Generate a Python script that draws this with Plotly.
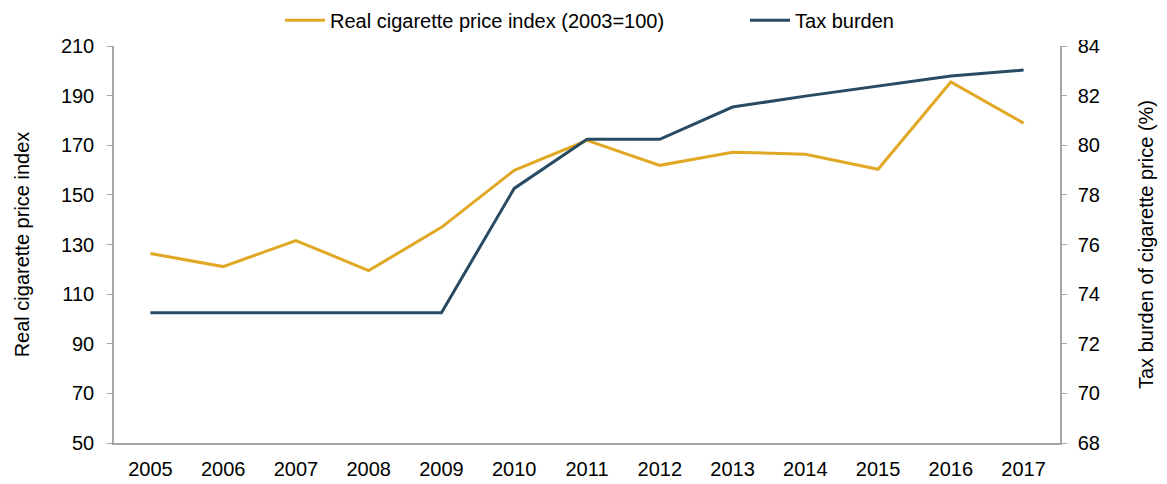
import plotly.graph_objects as go

years = ["2005", "2006", "2007", "2008", "2009", "2010", "2011",
         "2012", "2013", "2014", "2015", "2016", "2017"]
price_index = [126.4, 121.1, 131.6, 119.5, 136.9, 159.9, 172.0,
               161.9, 167.2, 166.4, 160.3, 195.5, 178.9]
tax_burden = [73.25, 73.25, 73.25, 73.25, 73.25, 78.26, 80.24,
              80.24, 81.54, 81.98, 82.38, 82.79, 83.03]

left_ticks = [50, 70, 90, 110, 130, 150, 170, 190, 210]
right_ticks = [68, 70, 72, 74, 76, 78, 80, 82, 84]

GOLD = "#E0A825"
NAVY = "#284B63"
AXIS = "#A6A6A6"
FONT = "Liberation Sans, Arial, sans-serif"
FS = 20

fig = go.Figure()
fig.add_trace(go.Scatter(
    x=years, y=price_index, mode="lines",
    name="Real cigarette price index (2003=100)",
    line=dict(color=GOLD, width=3),
))
fig.add_trace(go.Scatter(
    x=years, y=tax_burden, mode="lines", name="Tax burden",
    line=dict(color=NAVY, width=3), yaxis="y2",
))

fig.update_layout(
    width=1167, height=484,
    margin=dict(l=114, r=107, t=46, b=41, autoexpand=False),
    plot_bgcolor="white", paper_bgcolor="white",
    font=dict(family=FONT, size=FS, color="#000000"),
    showlegend=True,
    legend=dict(orientation="h", x=0.1755, xanchor="left",
                y=0.958, yanchor="middle", yref="container",
                font=dict(size=FS), itemwidth=40, tracegroupgap=0,
                entrywidth=410, entrywidthmode="pixels"),
    xaxis=dict(
        type="category", showgrid=False, showline=True, linecolor=AXIS,
        linewidth=1.5, ticks="", tickfont=dict(size=FS), ticklabelstandoff=7,
        range=[-0.5, 12.5],
    ),
    yaxis=dict(
        range=[50, 210], tickvals=left_ticks, showgrid=False, zeroline=False,
        showline=True, linecolor=AXIS, linewidth=1.5, ticks="outside",
        ticklen=5, tickcolor=AXIS, tickfont=dict(size=FS),
        ticklabelstandoff=9,
        title=dict(text="Real cigarette price index", font=dict(size=FS),
                   standoff=26),
    ),
    yaxis2=dict(
        range=[68, 84], tickvals=right_ticks, overlaying="y", side="right",
        showgrid=False, zeroline=False, showline=True, linecolor=AXIS,
        linewidth=1.5, ticks="outside", ticklen=5, tickcolor=AXIS,
        tickfont=dict(size=FS), ticklabelstandoff=7,
        title=dict(text="Tax burden of cigarette price (%)",
                   font=dict(size=FS), standoff=40),
    ),
)

fig.write_html("out.html")
